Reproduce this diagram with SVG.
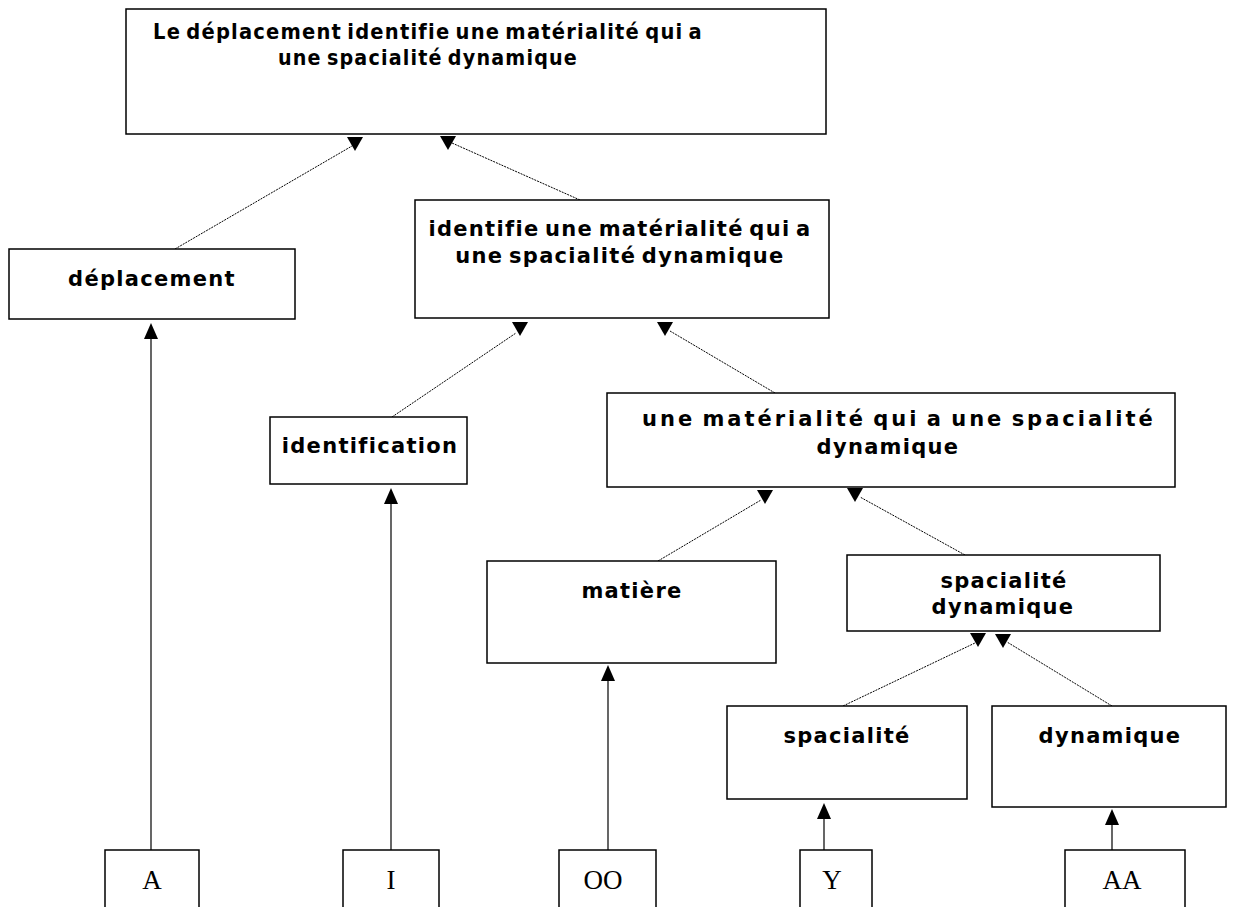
<svg xmlns="http://www.w3.org/2000/svg" width="1249" height="907" viewBox="0 0 1249 907">
  <style>
    .box { fill: #ffffff; stroke: #000000; stroke-width: 1.5; }
    .lbl { font-family: "DejaVu Sans", "Liberation Sans", sans-serif; font-weight: bold; font-size: 21px; letter-spacing: 1.3px; word-spacing: -3px; fill: #000000; text-anchor: middle; }
    .leaf { font-family: "Liberation Serif", "DejaVu Serif", serif; font-size: 27px; fill: #000000; text-anchor: middle; }
    .dot { stroke: #000000; stroke-width: 1; stroke-dasharray: 2 1; fill: none; }
    .solid { stroke: #000000; stroke-width: 1.2; fill: none; }
    .head { fill: #000000; }
  </style>
  <defs>
    <!-- downward head placed under a parent box, anchor at top centre -->
    <polygon id="down" points="-8,0 8,0 0,14"/>
    <!-- upward head placed under a child box, anchor at tip -->
    <polygon id="up" points="0,0 7,16 -7,16"/>
  </defs>
  <rect width="1249" height="907" fill="#ffffff"/>

  <g id="connectors">
    <line class="dot" x1="175" y1="249" x2="352" y2="146"/>
    <line class="dot" x1="580" y1="200" x2="452" y2="143"/>
    <line class="dot" x1="392" y1="417" x2="516" y2="333"/>
    <line class="dot" x1="775" y1="393" x2="670" y2="331"/>
    <line class="dot" x1="658" y1="561" x2="761" y2="500"/>
    <line class="dot" x1="965" y1="555" x2="860" y2="497"/>
    <line class="dot" x1="843" y1="706" x2="975" y2="643"/>
    <line class="dot" x1="1112" y1="706" x2="1007" y2="642"/>
    <line class="solid" x1="151" y1="850" x2="151" y2="338"/>
    <line class="solid" x1="391" y1="850" x2="391" y2="503"/>
    <line class="solid" x1="608" y1="850" x2="608" y2="680"/>
    <line class="solid" x1="824" y1="850" x2="824" y2="818"/>
    <line class="solid" x1="1112" y1="850" x2="1112" y2="824"/>
    <g class="head">
      <use href="#down" x="355" y="137"/>
      <use href="#down" x="448" y="136"/>
      <use href="#down" x="520" y="322"/>
      <use href="#down" x="665" y="322"/>
      <use href="#down" x="765" y="490"/>
      <use href="#down" x="855" y="488"/>
      <use href="#down" x="978" y="633"/>
      <use href="#down" x="1003" y="634"/>
      <use href="#up" x="151" y="323"/>
      <use href="#up" x="391" y="488"/>
      <use href="#up" x="608" y="665"/>
      <use href="#up" x="824" y="803"/>
      <use href="#up" x="1112" y="809"/>
    </g>
  </g>

  <g id="root">
    <rect class="box" x="126" y="9" width="700" height="125"/>
    <text class="lbl" x="428" y="39" textLength="550" lengthAdjust="spacingAndGlyphs">Le déplacement identifie une matérialité qui a</text>
    <text class="lbl" x="428" y="65" textLength="300" lengthAdjust="spacingAndGlyphs">une spacialité dynamique</text>
  </g>
  <g id="deplacement">
    <rect class="box" x="9" y="249" width="286" height="70"/>
    <text class="lbl" x="152" y="286">déplacement</text>
  </g>
  <g id="identifie">
    <rect class="box" x="415" y="200" width="414" height="118"/>
    <text class="lbl" x="620" y="236">identifie une matérialité qui a</text>
    <text class="lbl" x="620" y="263">une spacialité dynamique</text>
  </g>
  <g id="identification">
    <rect class="box" x="270" y="417" width="197" height="67"/>
    <text class="lbl" x="370" y="453">identification</text>
  </g>
  <g id="materialite">
    <rect class="box" x="607" y="393" width="568" height="94"/>
    <text class="lbl" x="898" y="426" textLength="512" lengthAdjust="spacing">une matérialité qui a une spacialité</text>
    <text class="lbl" x="888" y="454">dynamique</text>
  </g>
  <g id="matiere">
    <rect class="box" x="487" y="561" width="289" height="102"/>
    <text class="lbl" x="632" y="598">matière</text>
  </g>
  <g id="spacialite-dynamique">
    <rect class="box" x="847" y="555" width="313" height="76"/>
    <text class="lbl" x="1004" y="588">spacialité</text>
    <text class="lbl" x="1003" y="614">dynamique</text>
  </g>
  <g id="spacialite">
    <rect class="box" x="727" y="706" width="240" height="93"/>
    <text class="lbl" x="847" y="743">spacialité</text>
  </g>
  <g id="dynamique">
    <rect class="box" x="992" y="706" width="234" height="101"/>
    <text class="lbl" x="1110" y="743">dynamique</text>
  </g>

  <g id="leaf-a">
    <rect class="box" x="105" y="850" width="94" height="60"/>
    <text class="leaf" x="152" y="889">A</text>
  </g>
  <g id="leaf-i">
    <rect class="box" x="343" y="850" width="96" height="60"/>
    <text class="leaf" x="391" y="889">I</text>
  </g>
  <g id="leaf-oo">
    <rect class="box" x="559" y="850" width="97" height="60"/>
    <text class="leaf" x="603" y="889">OO</text>
  </g>
  <g id="leaf-y">
    <rect class="box" x="800" y="850" width="72" height="60"/>
    <text class="leaf" x="832" y="889">Y</text>
  </g>
  <g id="leaf-aa">
    <rect class="box" x="1065" y="850" width="120" height="60"/>
    <text class="leaf" x="1122" y="889">AA</text>
  </g>
</svg>
